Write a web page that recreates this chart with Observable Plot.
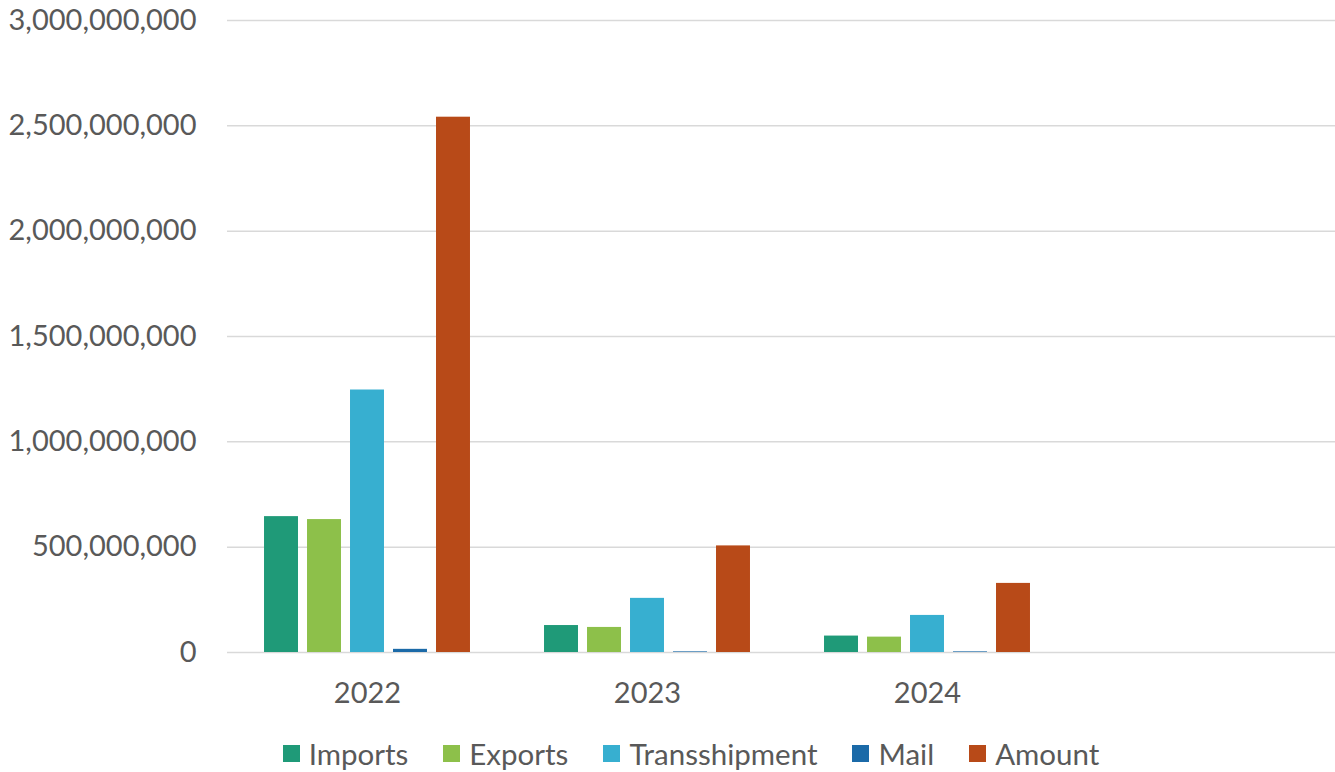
<!DOCTYPE html>
<html>
<head>
<meta charset="utf-8">
<script src="https://cdn.jsdelivr.net/npm/d3@7"></script>
<script src="https://cdn.jsdelivr.net/npm/@observablehq/plot@0.6"></script>
<style>
  html, body { margin: 0; padding: 0; background: #fff; overflow: hidden; }
  #chart svg { display: block; }
  #legend { display: flex; justify-content: center; align-items: center; gap: 35px;
            height: 34px; margin-top: 21px; padding-left: 47px; font-family: Lato, sans-serif; font-size: 29.5px; color: #595959; }
  #legend .item { display: flex; align-items: center; gap: 9px; }
  #legend .sw { width: 17px; height: 17px; display: inline-block; }
</style>
</head>
<body>
<div id="chart"></div>
<div id="legend"></div>
<script>
const years = ["2022", "2023", "2024"];
const facetDomain = ["2022", "2023", "2024", " "];
const series = ["Imports", "Exports", "Transshipment", "Mail", "Amount"];
const imports = [645e6, 128e6, 78e6];
const exports = [631e6, 119e6, 73e6];
const transshipment = [1246e6, 257e6, 176e6];
const mail = [15e6, 3e6, 3e6];
const amount = [2541e6, 506e6, 328e6];
const colors = ["#1f9a78", "#8dc04a", "#37afd0", "#1b6aa8", "#b84a18"];
const yTicks = [0, 5e8, 1e9, 1.5e9, 2e9, 2.5e9, 3e9];

const valuesBySeries = [imports, exports, transshipment, mail, amount];
const data = [];
years.forEach((yr, i) => {
  series.forEach((s, j) => {
    data.push({year: yr, series: s, value: valuesBySeries[j][i]});
  });
});
const gridData = [];
facetDomain.forEach(f => yTicks.forEach(t => gridData.push({facet: f, y: t})));

const chart = Plot.plot({
  width: 1335,
  height: 715,
  marginLeft: 227,
  marginRight: -12,
  marginTop: 20,
  marginBottom: 63,
  style: {fontFamily: "Lato, sans-serif", fontSize: "29px", color: "#595959", background: "#fff", overflow: "hidden"},
  fx: {domain: facetDomain, padding: 0, round: false, label: null},
  x: {domain: series, paddingInner: 0.21, paddingOuter: 0.861, round: false, axis: null},
  y: {domain: [0, 3e9], label: null},
  color: {domain: series, range: colors},
  marks: [
    Plot.gridY(gridData, {fx: "facet", y: "y", stroke: "#d9d9d9", strokeOpacity: 1, strokeWidth: 1.5}),
    Plot.barY(data, {fx: "year", x: "series", y: "value", fill: "series"}),
    Plot.axisY(yTicks, {tickFormat: d3.format(","), tickSize: 0, tickPadding: 31, label: null, fill: "#595959"}),
    Plot.axisFx({anchor: "bottom", tickSize: 0, tickPadding: 30, label: null, fill: "#595959"})
  ]
});
document.getElementById("chart").appendChild(chart);

const legend = document.getElementById("legend");
series.forEach((s, i) => {
  const item = document.createElement("div");
  item.className = "item";
  const sw = document.createElement("span");
  sw.className = "sw";
  sw.style.background = colors[i];
  const t = document.createElement("span");
  t.textContent = s;
  item.appendChild(sw);
  item.appendChild(t);
  legend.appendChild(item);
});
</script>
</body>
</html>
